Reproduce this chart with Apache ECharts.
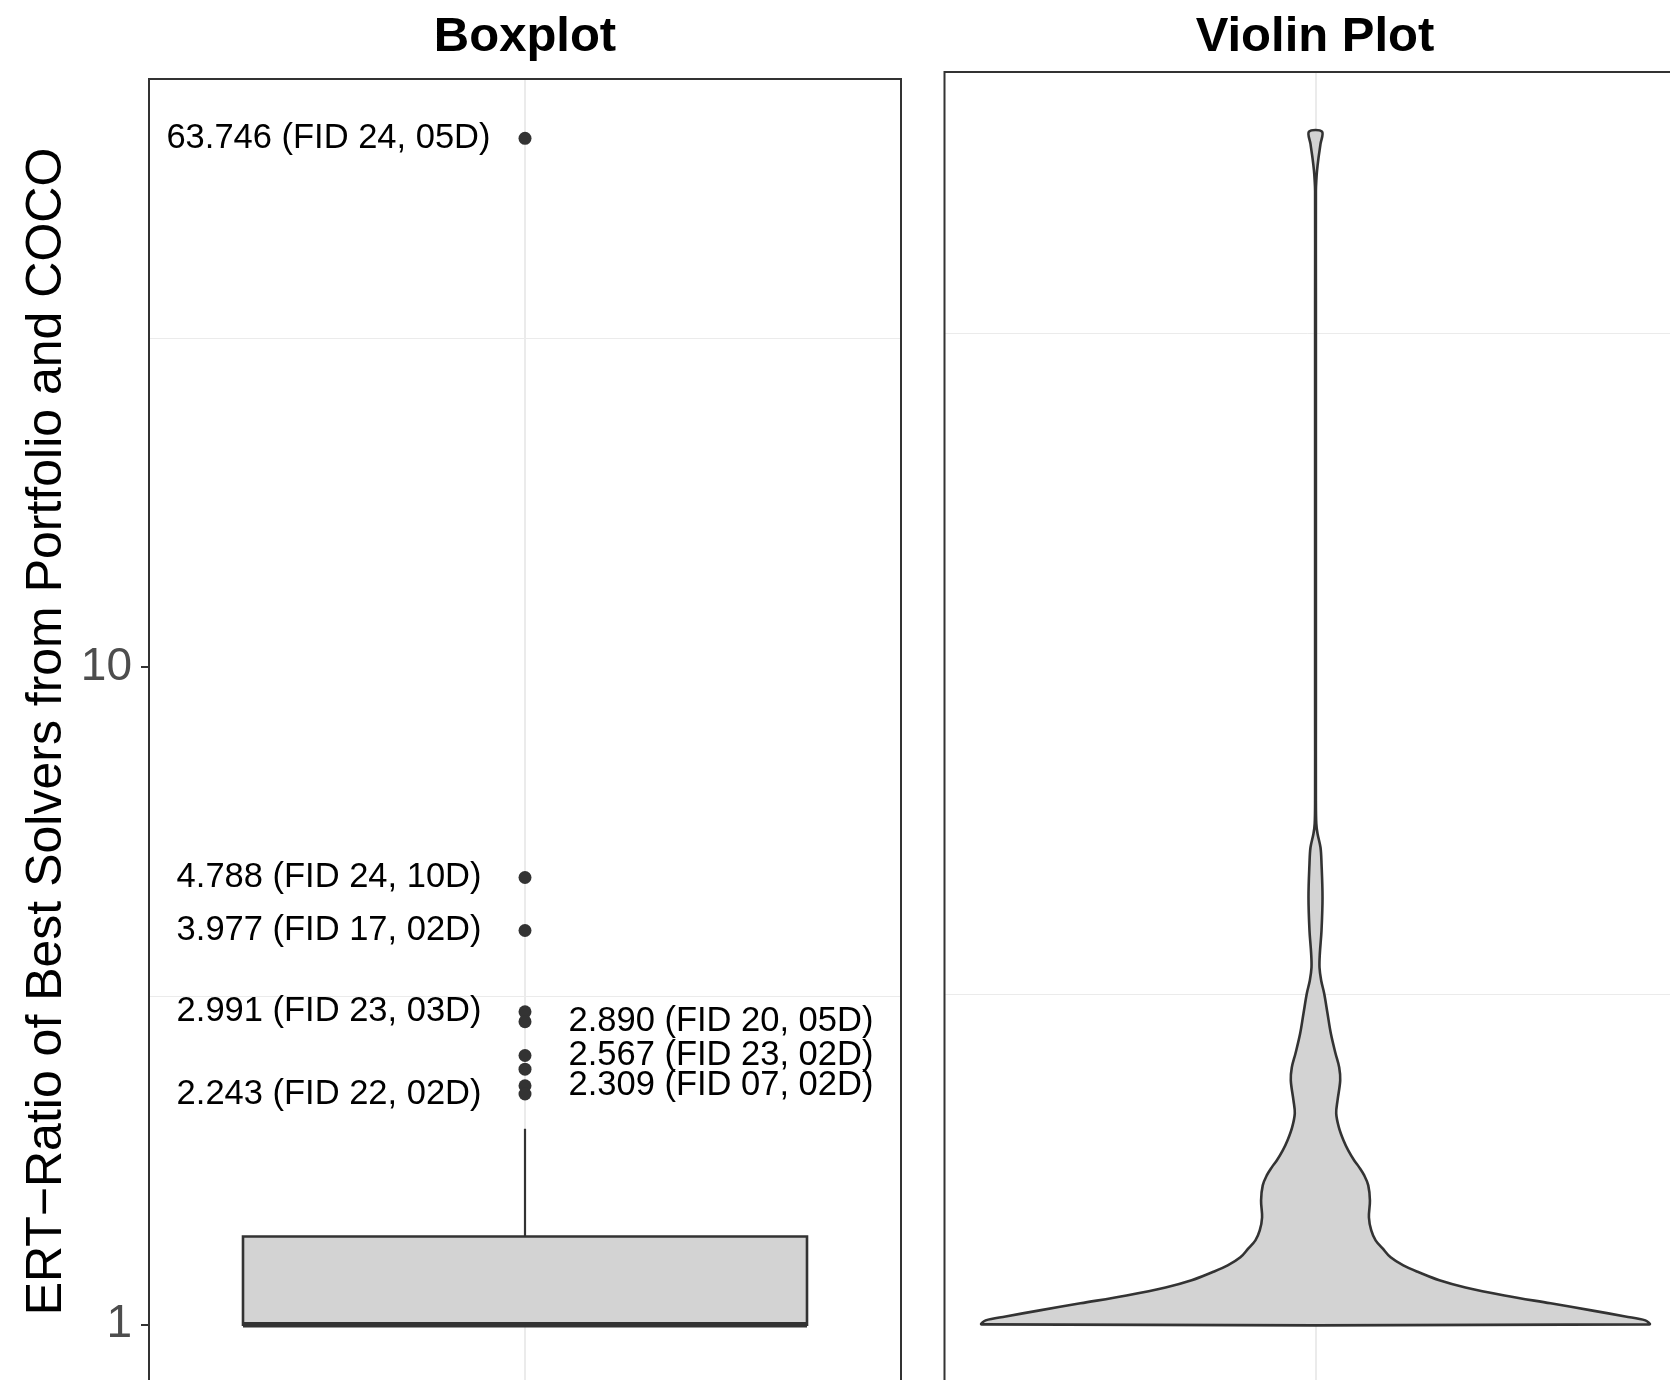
<!DOCTYPE html>
<html>
<head>
<meta charset="utf-8">
<title>Boxplot / Violin Plot</title>
<style>
  html, body { margin: 0; padding: 0; background: #ffffff; }
  #main { width: 1670px; height: 1380px; }
</style>
</head>
<body>
<div id="main"></div>
<script src="https://cdn.jsdelivr.net/npm/echarts@6/dist/echarts.min.js"></script>
<script>
// ---- data ----
// box stats: lower whisker, q1, median, q3, upper whisker
const boxStats = [1.0, 1.0, 1.0, 1.362, 1.986];

// outliers and their labels ('' = no label)
const outlierValues = [63.746, 4.788, 3.977, 2.991, 2.890, 2.567, 2.447, 2.309, 2.243];
const outlierLabels = [
  '63.746 (FID 24, 05D)', '4.788 (FID 24, 10D)', '3.977 (FID 17, 02D)',
  '2.991 (FID 23, 03D)', '2.890 (FID 20, 05D)', '2.567 (FID 23, 02D)', '',
  '2.309 (FID 07, 02D)', '2.243 (FID 22, 02D)'
];

// violin outline: ratio and relative density (1 = widest)
const violinValues = [
  1.000, 1.014, 1.028, 1.050, 1.076, 1.106, 1.137, 1.166, 1.198, 1.228,
  1.263, 1.303, 1.340, 1.387, 1.451, 1.540, 1.623, 1.680, 1.728, 1.770,
  1.833, 1.897, 1.986, 2.085, 2.182, 2.339, 2.447, 2.569, 2.754, 2.953,
  3.166, 3.313, 3.466, 3.639, 3.944, 4.423, 4.980, 5.265, 5.527, 5.723,
  6.199, 8.783, 17.62, 35.35, 51.85, 53.69, 55.60, 58.17, 61.07, 63.746
];
const violinDensity = [
  1.000, 0.988, 0.928, 0.826, 0.704, 0.566, 0.449, 0.371, 0.311, 0.263,
  0.225, 0.201, 0.180, 0.167, 0.160, 0.163, 0.158, 0.146, 0.131, 0.116,
  0.098, 0.084, 0.070, 0.062, 0.066, 0.074, 0.071, 0.060, 0.046, 0.036,
  0.026, 0.017, 0.012, 0.013, 0.018, 0.021, 0.018, 0.015, 0.006, 0.0024,
  0.0012, 0.0012, 0.0012, 0.0012, 0.0012, 0.0024, 0.0045, 0.009, 0.015, 0.0195
];

const yTicks = [1, 10];
const minorBreaks = [3.1623, 31.623];
// ---- end data ----

const FONT = "'Liberation Sans', Arial, Helvetica, sans-serif";
const DARK = '#333333';
const FILL = '#d3d3d3';
const GRID_COLOR = '#ebebeb';

// ggplot-like 5% expansion on the log scale
const logMax = Math.log10(Math.max.apply(null, outlierValues));
const yMin = Math.pow(10, -0.05 * logMax);
const yMax = Math.pow(10, logMax * 1.05);

const boxHalf = 0.75;
const violinHalf = 0.9;

var chartDom = document.getElementById('main');
var myChart = echarts.init(chartDom);

function xAxisCfg(gridIndex) {
  return {
    type: 'value', gridIndex: gridIndex, min: -1, max: 1, interval: 1,
    axisLine: { show: false, onZero: false }, axisTick: { show: false }, axisLabel: { show: false },
    splitLine: { show: true, showMinLine: false, showMaxLine: false,
      lineStyle: { color: GRID_COLOR, width: 2 } }
  };
}

function yAxisCfg(gridIndex, withLabels) {
  return {
    type: 'log', logBase: 10, gridIndex: gridIndex, min: yMin, max: yMax,
    name: withLabels ? 'ERT\u2212Ratio of Best Solvers from Portfolio and COCO' : '',
    nameLocation: 'middle',
    nameGap: 77,
    nameTextStyle: { fontFamily: FONT, fontSize: 50, color: '#000' },
    axisLine: { show: false, onZero: false },
    axisTick: { show: withLabels, customValues: yTicks, length: 8,
      lineStyle: { color: DARK, width: 2 } },
    axisLabel: { show: withLabels, customValues: yTicks, margin: 17,
      fontFamily: FONT, fontSize: 46, color: '#4d4d4d' },
    splitLine: { show: true, showMinLine: false, showMaxLine: false,
      lineStyle: { color: GRID_COLOR, width: 2 } }
  };
}

// minor grid lines, drawn behind the marks
function minorLines(xi, yi) {
  return {
    type: 'line', xAxisIndex: xi, yAxisIndex: yi, data: [], silent: true,
    markLine: {
      silent: true, z: 1, symbol: ['none', 'none'], label: { show: false },
      lineStyle: { color: GRID_COLOR, width: 1, type: 'solid' },
      emphasis: { disabled: true },
      data: minorBreaks.map(function (v) { return { yAxis: v }; })
    }
  };
}

var option = {
  animation: false,
  backgroundColor: '#ffffff',
  textStyle: { fontFamily: FONT },
  title: [
    { text: 'Boxplot', left: 525, top: 13, textAlign: 'center', padding: 0,
      textStyle: { fontFamily: FONT, fontSize: 49, fontWeight: 'bold', color: '#000' } },
    { text: 'Violin Plot', left: 1315, top: 13, textAlign: 'center', padding: 0,
      textStyle: { fontFamily: FONT, fontSize: 49, fontWeight: 'bold', color: '#000' } }
  ],
  grid: [
    { left: 149, top: 79, width: 752, height: 1305, show: true, z: 10,
      outerBoundsMode: 'none', containLabel: false,
      backgroundColor: 'transparent', borderColor: DARK, borderWidth: 2 },
    { left: 944.5, top: 72, width: 742, height: 1312, show: true, z: 10,
      outerBoundsMode: 'none', containLabel: false,
      backgroundColor: 'transparent', borderColor: DARK, borderWidth: 2 }
  ],
  xAxis: [xAxisCfg(0), xAxisCfg(1)],
  yAxis: [yAxisCfg(0, true), yAxisCfg(1, false)],
  series: [
    minorLines(0, 0),
    minorLines(1, 1),
    // box + whiskers
    {
      type: 'custom', xAxisIndex: 0, yAxisIndex: 0, silent: true,
      data: [[0].concat(boxStats)],
      encode: { x: 0, y: [1, 2, 3, 4, 5] },
      renderItem: function (params, api) {
        var lo = api.coord([0, boxStats[0]]);
        var q1 = api.coord([0, boxStats[1]]);
        var med = api.coord([0, boxStats[2]]);
        var q3 = api.coord([0, boxStats[3]]);
        var hi = api.coord([0, boxStats[4]]);
        var l = api.coord([-boxHalf, boxStats[3]]);
        var r = api.coord([boxHalf, boxStats[1]]);
        return {
          type: 'group',
          children: [
            { type: 'line', shape: { x1: hi[0], y1: hi[1], x2: q3[0], y2: q3[1] },
              style: { stroke: DARK, lineWidth: 2.2 } },
            { type: 'line', shape: { x1: lo[0], y1: lo[1], x2: q1[0], y2: q1[1] },
              style: { stroke: DARK, lineWidth: 2.2 } },
            { type: 'rect', shape: { x: l[0], y: l[1], width: r[0] - l[0], height: r[1] - l[1] },
              style: { fill: FILL, stroke: DARK, lineWidth: 2.6 } },
            { type: 'line', shape: { x1: l[0], y1: med[1], x2: r[0], y2: med[1] },
              style: { stroke: DARK, lineWidth: 5.5 } }
          ]
        };
      }
    },
    // outliers with labels
    {
      type: 'scatter', xAxisIndex: 0, yAxisIndex: 0, silent: true,
      symbol: 'circle', symbolSize: 13, z: 4,
      itemStyle: { color: DARK, opacity: 1 },
      data: outlierValues.map(function (v, i) {
        var onRight = [4, 5, 7].indexOf(i) >= 0;
        return {
          value: [0, v],
          label: {
            show: outlierLabels[i] !== '',
            formatter: outlierLabels[i],
            position: onRight ? 'right' : 'left',
            distance: i === 0 ? 28 : 37,
            fontFamily: FONT, fontSize: 34.5, color: '#000'
          }
        };
      })
    },
    // violin
    {
      type: 'custom', xAxisIndex: 1, yAxisIndex: 1, silent: true,
      data: [[0, 1]],
      encode: { x: 0, y: 1 },
      renderItem: function (params, api) {
        var left = [], right = [];
        for (var i = 0; i < violinValues.length; i++) {
          var w = violinDensity[i] * violinHalf;
          left.push(api.coord([-w, violinValues[i]]));
          right.push(api.coord([w, violinValues[i]]));
        }
        return {
          type: 'polygon',
          shape: { points: left.concat(right.reverse()), smooth: 0.35 },
          style: { fill: FILL, stroke: DARK, lineWidth: 2.6, lineJoin: 'round' }
        };
      }
    }
  ]
};

option && myChart.setOption(option);
</script>
</body>
</html>
